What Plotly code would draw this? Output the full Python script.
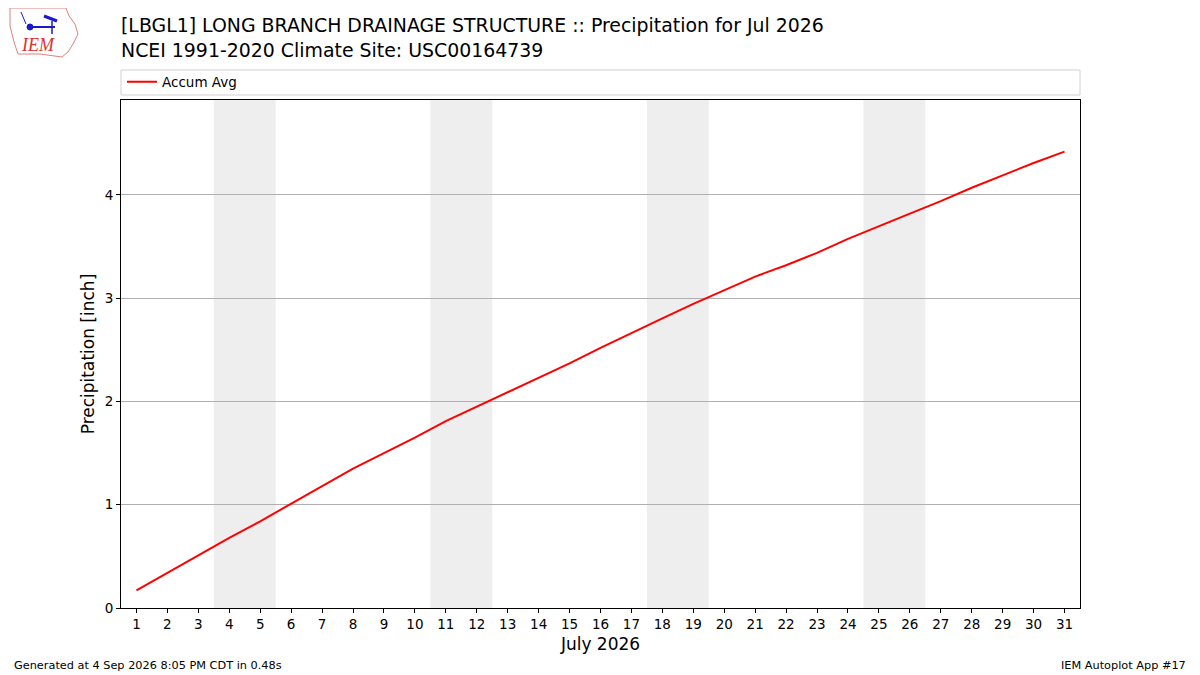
import plotly.graph_objects as go

days = list(range(1, 32))
accum_avg = [0.17, 0.34, 0.51, 0.68, 0.84, 1.01, 1.18, 1.35, 1.50, 1.65,
             1.81, 1.95, 2.09, 2.23, 2.37, 2.52, 2.665, 2.805, 2.945, 3.075,
             3.21, 3.32, 3.44, 3.575, 3.70, 3.82, 3.94, 4.07, 4.19, 4.31, 4.42]
weekends = [(3.5, 5.5), (10.5, 12.5), (17.5, 19.5), (24.5, 26.5)]
yticks = [0, 1, 2, 3, 4]

FONT = "DejaVu Sans"

# page body margin offset (browser default 8px)
OFF = 8
W, H = 1200 - OFF, 675 - OFF
# target plot area in window pixels
X0, X1, Y0, Y1 = 121, 1080, 100, 608
L, R, T, B = X0 - OFF, 1200 - X1, Y0 - OFF, 675 - Y1
pw, ph = X1 - X0, Y1 - Y0
def px(x): return (x - X0) / pw
def py(y): return (Y1 - y) / ph

fig = go.Figure()
fig.add_trace(go.Scatter(x=days, y=accum_avg, mode="lines", name="Accum Avg",
                         line=dict(color="red", width=2)))

shapes = []
for a, b in weekends:
    shapes.append(dict(type="rect", xref="x", yref="paper", x0=a, x1=b, y0=0, y1=1,
                       fillcolor="#eeeeee", line=dict(width=0), layer="below"))
# legend frame
shapes.append(dict(type="rect", xref="paper", yref="paper",
                   x0=px(121), x1=px(1080), y0=py(95), y1=py(70),
                   line=dict(color="#d0d0d0", width=1), fillcolor="rgba(0,0,0,0)"))
# logo outline (rough Iowa shape)
pts = [(10, 8), (66, 8), (69, 16), (75, 24), (78, 34), (73, 44), (68, 52), (62, 57),
       (40, 54), (18, 54), (14, 42), (10, 26)]
path = "M " + " L ".join(f"{px(x)},{py(y)}" for x, y in pts) + " Z"
shapes.append(dict(type="path", xref="paper", yref="paper", path=path,
                   line=dict(color="#e08080", width=1)))
# logo glyph (blue)
shapes.append(dict(type="line", xref="paper", yref="paper", x0=px(30), x1=px(55), y0=py(27), y1=py(27),
                   line=dict(color="#1a1acc", width=2)))
shapes.append(dict(type="circle", xref="paper", yref="paper", x0=px(27), x1=px(33), y0=py(30), y1=py(24),
                   fillcolor="#1a1acc", line=dict(color="#1a1acc", width=1)))
shapes.append(dict(type="line", xref="paper", yref="paper", x0=px(44), x1=px(57), y0=py(16), y1=py(21),
                   line=dict(color="#1a1acc", width=3)))
shapes.append(dict(type="line", xref="paper", yref="paper", x0=px(52), x1=px(52), y0=py(21), y1=py(34),
                   line=dict(color="#1a1acc", width=1.5)))
shapes.append(dict(type="line", xref="paper", yref="paper", x0=px(21), x1=px(26), y0=py(12), y1=py(24),
                   line=dict(color="#1a1acc", width=1)))

annotations = [
    dict(text="[LBGL1] LONG BRANCH DRAINAGE STRUCTURE :: Precipitation for Jul 2026<br>NCEI 1991-2020 Climate Site: USC00164739",
         xref="paper", yref="paper", x=px(119), y=py(12), xanchor="left", yanchor="top",
         showarrow=False, align="left", font=dict(family=FONT, size=18.9, color="black")),
    dict(text="<i>IEM</i>", xref="paper", yref="paper", x=px(38), y=py(45),
         xanchor="center", yanchor="middle", showarrow=False,
         font=dict(family="Liberation Serif", size=18, color="#e03030")),
    dict(text="Generated at 4 Sep 2026 8:05 PM CDT in 0.48s", xref="paper", yref="paper",
         x=px(12), y=py(665), xanchor="left", yanchor="middle", showarrow=False,
         font=dict(family=FONT, size=11.3, color="black")),
    dict(text="IEM Autoplot App #17", xref="paper", yref="paper",
         x=px(1188), y=py(665), xanchor="right", yanchor="middle", showarrow=False,
         font=dict(family=FONT, size=11.3, color="black")),
]

fig.update_layout(
    width=W, height=H,
    margin=dict(l=L, r=R, t=T, b=B),
    paper_bgcolor="white", plot_bgcolor="white",
    font=dict(family=FONT, size=13.5, color="black"),
    shapes=shapes, annotations=annotations,
    showlegend=True,
    legend=dict(x=px(122), y=py(82), xanchor="left", yanchor="middle",
                bgcolor="rgba(0,0,0,0)", borderwidth=0,
                font=dict(family=FONT, size=13.5), itemwidth=30),
    xaxis=dict(range=[0.5, 31.5], tickmode="array", tickvals=days,
               ticktext=[str(d) for d in days], showgrid=False, zeroline=False,
               ticks="outside", ticklen=4, tickcolor="black", showline=True,
               linecolor="black", linewidth=1, mirror=True,
               title=dict(text="July 2026", font=dict(size=17), standoff=6)),
    yaxis=dict(range=[0, 4.92], tickmode="array", tickvals=yticks,
               showgrid=True, gridcolor="#b0b0b0", gridwidth=1, zeroline=False,
               ticks="outside", ticklen=4, tickcolor="black", showline=True,
               linecolor="black", linewidth=1, mirror=True,
               title=dict(text="Precipitation [inch]", font=dict(size=17), standoff=5)),
)

fig.write_html("out.html")
